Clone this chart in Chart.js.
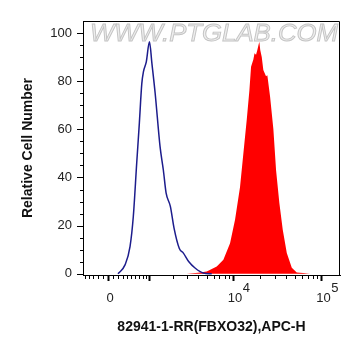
<!DOCTYPE html>
<html>
<head>
<meta charset="utf-8">
<script src="https://cdn.jsdelivr.net/npm/chart.js@4.4.1/dist/chart.umd.min.js"></script>
<style>
  html, body { margin: 0; padding: 0; background: #fff; }
</style>
</head>
<body>
<canvas id="c" width="361" height="356"></canvas>
<script>
// control (isotype) histogram, outline only
const blueX = [203, 353, 467, 546, 632, 702, 770, 818, 903, 1004, 1087, 1204, 1397, 1540, 1665, 1880, 2084, 2412, 2692, 3120, 3680, 4582, 5717];
const blueY = [0, 3.7, 11.3, 23.8, 46, 62.6, 79, 84, 88, 96.4, 87.4, 75, 52.8, 43, 33.6, 28, 19, 10.5, 8.6, 5, 2.4, 0.3, 0];

// FBXO32 stained histogram, filled
const redX = [-539, 2946, 4000, 5017, 6526, 7760, 9241, 10523, 11990, 13309, 14282, 15293, 15980, 16969, 17500, 18196, 18829, 19400, 19833, 20300, 21114, 22002, 23000, 23615, 24426, 26225, 28587, 30664, 33404, 36492, 40530, 46166, 52565, 62000, 74266, 162000];
const redY = [0, 0, 0.4, 1, 3, 5.8, 12.7, 22.4, 36, 52.8, 64, 76, 86, 89, 91.6, 91, 93, 95, 96.4, 93, 90, 84.6, 83, 82, 82.5, 73.6, 60, 43, 29.4, 18.3, 8.6, 2.5, 0.5, 0.3, 0, 0];

const xMajorTicks = [0, 1000, 10000, 100000];
const xTickValues = [-500, -400, -300, -200, -100, 0, 100, 200, 300, 400, 500, 600, 700, 800, 900,
  1000, 2000, 3000, 4000, 5000, 6000, 7000, 8000, 9000,
  10000, 20000, 30000, 40000, 50000, 60000, 70000, 80000, 90000, 100000];
const xLabelValues = [0, 10000, 100000];
const xLabelBase = ['0', '10', '10'];
const xLabelExp = ['', '4', '5'];
const yTickValues = [0, 5, 10, 15, 20, 25, 30, 35, 40, 45, 50, 55, 60, 65, 70, 75, 80, 85, 90, 95, 100];

// biexponential-like display (asinh)
const W = 772;
const tf = v => Math.asinh(v / W);
const itf = t => W * Math.sinh(t);

class BiexScale extends Chart.LinearScale {
  buildTicks() {
    return xTickValues.map(v => ({ value: v }));
  }
  getPixelForValue(value) {
    const a = tf(this.min), b = tf(this.max);
    return this.getPixelForDecimal((tf(value) - a) / (b - a));
  }
  getValueForPixel(pixel) {
    const a = tf(this.min), b = tf(this.max);
    return itf(a + this.getDecimalForPixel(pixel) * (b - a));
  }
}
BiexScale.id = 'biex';
BiexScale.defaults = {};
Chart.register(BiexScale);

const toPoints = (xs, ys) => xs.map((x, i) => ({ x: x, y: ys[i] }));

const decor = {
  id: 'decor',
  beforeDatasetsDraw(chart) {
    const { ctx } = chart;
    ctx.save();
    ctx.font = 'italic 24px "Liberation Sans", Arial, sans-serif';
    const text = 'WWW.PTGLAB.COM';
    const w = ctx.measureText(text).width;
    ctx.translate(214, 34);
    ctx.scale(248 / w, 1);
    ctx.textAlign = 'center';
    ctx.textBaseline = 'middle';
    ctx.fillStyle = '#eeeeee';
    ctx.fillText(text, 0, 0);
    ctx.strokeStyle = '#c4c4c4';
    ctx.lineWidth = 0.9;
    ctx.strokeText(text, 0, 0);
    ctx.restore();
  },
  afterDraw(chart) {
    const { ctx, chartArea: a, scales } = chart;
    const x = scales.x, y = scales.y;
    ctx.save();
    ctx.strokeStyle = '#000';
    ctx.lineWidth = 1;
    ctx.beginPath();
    ctx.moveTo(a.left, a.top + 0.5);
    ctx.lineTo(a.right - 0.5, a.top + 0.5);
    ctx.lineTo(a.right - 0.5, a.bottom);
    ctx.stroke();

    xTickValues.forEach(v => {
      const px = Math.round(x.getPixelForValue(v)) + 0.5;
      const major = xMajorTicks.includes(v);
      ctx.lineWidth = major ? 2 : 1;
      ctx.beginPath();
      ctx.moveTo(px, a.bottom);
      ctx.lineTo(px, a.bottom + (major ? 6 : 4));
      ctx.stroke();
    });
    ctx.lineWidth = 1;
    yTickValues.forEach(v => {
      const py = Math.round(y.getPixelForValue(v)) + 0.5;
      const major = v % 20 === 0;
      ctx.beginPath();
      ctx.moveTo(a.left - (major ? 6 : 3), py);
      ctx.lineTo(a.left, py);
      ctx.stroke();
    });

    ctx.fillStyle = '#222';
    ctx.textBaseline = 'alphabetic';
    xLabelValues.forEach((v, i) => {
      const px = x.getPixelForValue(v);
      ctx.font = '13px "Liberation Sans", Arial, sans-serif';
      ctx.textAlign = 'center';
      ctx.fillText(xLabelBase[i], px + 2, 302);
      if (xLabelExp[i]) {
        const bw = ctx.measureText(xLabelBase[i]).width;
        ctx.font = '13px "Liberation Sans", Arial, sans-serif';
        ctx.textAlign = 'left';
        ctx.fillText(xLabelExp[i], px + 2 + bw / 2 + 0.5, 292);
      }
    });
    ctx.restore();
  }
};

new Chart(document.getElementById('c'), {
  type: 'line',
  data: {
    datasets: [
      {
        label: 'Control',
        data: toPoints(blueX, blueY),
        borderColor: '#1c1c8c',
        borderWidth: 1.5,
        fill: false,
        pointRadius: 0,
        cubicInterpolationMode: 'monotone'
      },
      {
        label: '82941-1-RR',
        data: toPoints(redX, redY),
        borderColor: '#ff0000',
        borderWidth: 0,
        backgroundColor: '#ff0000',
        fill: 'origin',
        pointRadius: 0,
        tension: 0
      }
    ]
  },
  options: {
    responsive: false,
    animation: false,
    events: [],
    layout: { padding: { top: 21, right: 21, left: 0, bottom: 0 } },
    plugins: { legend: { display: false }, tooltip: { enabled: false } },
    scales: {
      x: {
        type: 'biex',
        min: -539,
        max: 162000,
        afterFit: s => { s.height = 81; },
        grid: { display: false, drawTicks: false },
        border: { display: true, color: '#000', width: 1 },
        ticks: { display: false, autoSkip: false },
        title: {
          display: true,
          text: '82941-1-RR(FBXO32),APC-H',
          color: '#111',
          font: { family: '"Liberation Sans", Arial, sans-serif', size: 14, weight: 'bold' },
          padding: { top: 0, bottom: 20 }
        }
      },
      y: {
        min: -0.5,
        max: 105,
        afterFit: s => { s.width = 83; },
        afterBuildTicks: s => { s.ticks = yTickValues.map(v => ({ value: v })); },
        grid: { display: false, drawTicks: false },
        border: { display: true, color: '#000', width: 1 },
        ticks: {
          autoSkip: false,
          padding: 11,
          color: '#222',
          font: { family: '"Liberation Sans", Arial, sans-serif', size: 13 },
          callback: v => (v % 20 === 0 ? String(v) : '')
        },
        title: {
          display: true,
          text: 'Relative Cell Number',
          color: '#111',
          font: { family: '"Liberation Sans", Arial, sans-serif', size: 14, weight: 'bold' },
          padding: { top: 20, bottom: 0 }
        }
      }
    }
  },
  plugins: [decor]
});
</script>
</body>
</html>
